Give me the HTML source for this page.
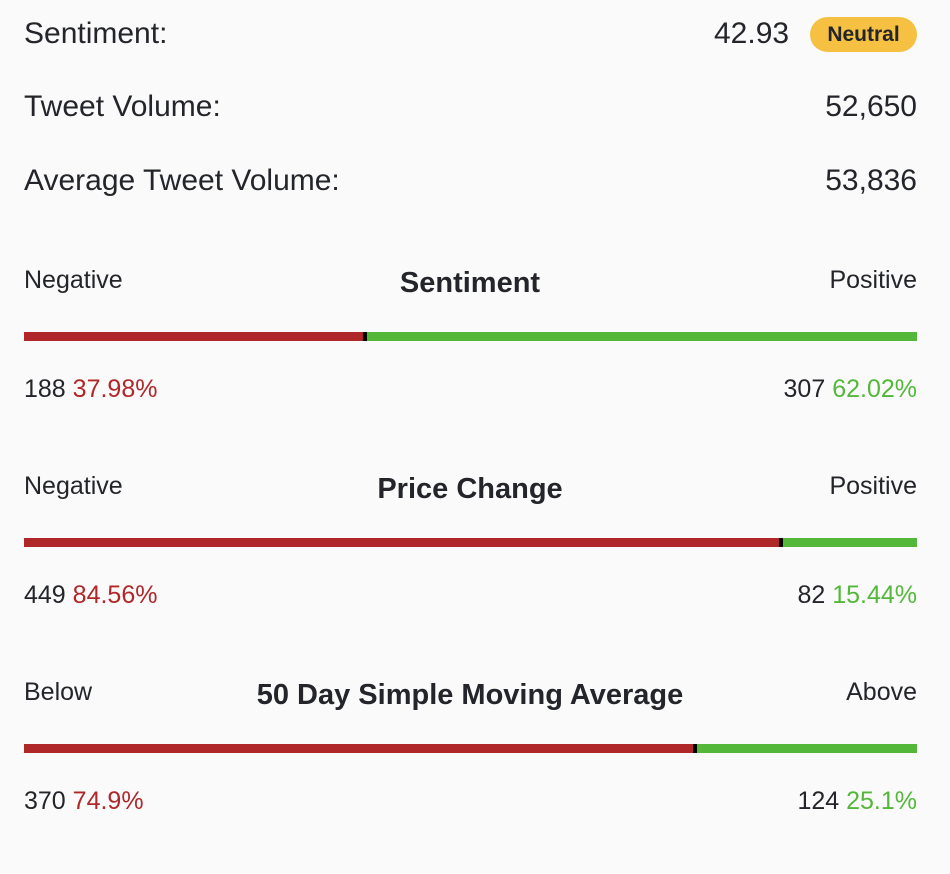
<!DOCTYPE html>
<html><head><meta charset="utf-8"><style>
body{margin:0;background:#fafafa;width:950px;height:874px;overflow:hidden;font-family:"Liberation Sans",sans-serif;color:#23252a;position:relative}
.a{position:absolute;white-space:nowrap;line-height:1}
.r{right:33px}
.big{font-size:30px}
.lab{font-size:25px}
.ttl{font-size:29px;font-weight:bold;left:0;width:950px;text-align:center;transform:translateX(-5px)}
.red{color:#b0272a}.grn{color:#53b83a}
.badge{position:absolute;left:810px;top:17px;width:107px;height:35px;border-radius:18px;background:#f6c142;font-weight:bold;font-size:21px;text-align:center;line-height:35px}
.bar{position:absolute;left:24px;width:893px;height:9px;background:#53b83a}
.bar .n{position:absolute;left:0;top:0;height:100%;background:#b0272a;border-right:4px solid #000}
</style></head><body>
<div class="a big" style="left:24px;top:19px">Sentiment:</div>
<div class="a big" style="left:714px;top:19px">42.93</div>
<div class="badge">Neutral</div>
<div class="a big" style="left:24px;top:92px">Tweet Volume:</div>
<div class="a big r" style="top:92px">52,650</div>
<div class="a big" style="left:24px;top:166px">Average Tweet Volume:</div>
<div class="a big r" style="top:166px">53,836</div>
<div id="sections"></div>
<script>
const titles=["Sentiment","Price Change","50 Day Simple Moving Average"];
const leftLabels=["Negative","Negative","Below"];
const rightLabels=["Positive","Positive","Above"];
const leftCounts=[188,449,370];
const rightCounts=[307,82,124];
const leftPcts=["37.98%","84.56%","74.9%"];
const rightPcts=["62.02%","15.44%","25.1%"];
const tops=[268,474,680];
const root=document.getElementById('sections');
titles.forEach((t,i)=>{
  const y=tops[i];
  const total=leftCounts[i]+rightCounts[i];
  const frac=leftCounts[i]/total;
  const sec=document.createElement('div');
  
  
  sec.innerHTML=
   `<div class="a lab" style="left:24px;top:${y}px">${leftLabels[i]}</div>`+
   `<div class="a ttl" style="top:${y+1}px">${t}</div>`+
   `<div class="a lab r" style="top:${y}px">${rightLabels[i]}</div>`+
   `<div class="bar" style="top:${y+64}px"><div class="n" style="width:${frac*893}px"></div></div>`+
   `<div class="a lab" style="left:24px;top:${y+109}px">${leftCounts[i]} <span class="red">${leftPcts[i]}</span></div>`+
   `<div class="a lab r" style="top:${y+109}px">${rightCounts[i]} <span class="grn">${rightPcts[i]}</span></div>`;
  root.appendChild(sec);
});
</script>
</body></html>
